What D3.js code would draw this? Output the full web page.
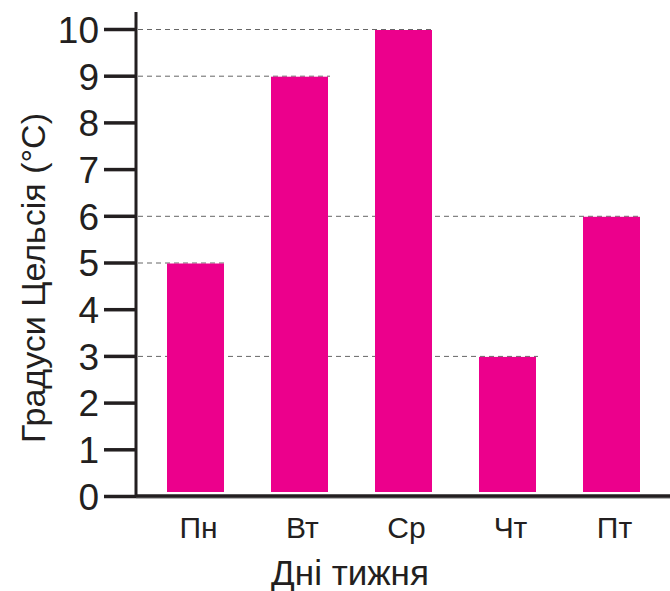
<!DOCTYPE html>
<html>
<head>
<meta charset="utf-8">
<script src="https://cdn.jsdelivr.net/npm/d3@7"></script>
<style>
  body { margin: 0; background: #fff; }
  text { font-family: 'Liberation Sans', Arial, sans-serif; fill: #231f20; }
</style>
</head>
<body>
<div id="chart"></div>
<script>
// データ---------------------------------------------------------------------------
const days = ['Пн', 'Вт', 'Ср', 'Чт', 'Пт'];
const temps = [5, 9, 10, 3, 6];
const yTicks = [0, 1, 2, 3, 4, 5, 6, 7, 8, 9, 10];
const yTitle = 'Градуси Цельсія (°C)';
const xTitle = 'Дні тижня';

const width = 670, height = 591;
const axisColor = '#231f20', barColor = '#ec008c';

const dataset = days.map((d, i) => ({ day: d, value: temps[i] }));

// SVG領域---------------------------------------------------------------------------
const svg = d3.select('#chart').append('svg')
  .attr('width', width)
  .attr('height', height);

// スケール---------------------------------------------------------------------------
const xScale = d3.scaleBand()
  .domain(days)
  .range([167, 640])
  .paddingInner(0.452)
  .paddingOuter(0);
const yScale = d3.scaleLinear()
  .domain([0, 10])
  .range([496, 29]);
const axisX = 136;

// 破線------------------------------------------------------------------------------
svg.append('g')
  .selectAll('line')
  .data(dataset)
  .enter()
  .append('line')
  .attr('x1', axisX + 2)
  .attr('x2', d => xScale(d.day) + xScale.bandwidth() + 2)
  .attr('y1', d => yScale(d.value) + 0.5)
  .attr('y2', d => yScale(d.value) + 0.5)
  .attr('stroke', '#666')
  .attr('stroke-width', 1)
  .attr('stroke-dasharray', '5,4');

// 棒--------------------------------------------------------------------------------
svg.append('g')
  .selectAll('rect')
  .data(dataset)
  .enter()
  .append('rect')
  .attr('x', d => xScale(d.day))
  .attr('y', d => yScale(d.value) + 1)
  .attr('width', xScale.bandwidth())
  .attr('height', d => yScale(0) - 5 - yScale(d.value))
  .attr('fill', barColor);

// Y軸-------------------------------------------------------------------------------
const axisy = d3.axisLeft(yScale)
  .tickValues(yTicks)
  .tickSize(32)
  .tickPadding(5)
  .tickFormat(d3.format('d'));
const gY = svg.append('g')
  .attr('transform', 'translate(' + axisX + ',0)')
  .call(axisy);
gY.select('.domain').remove();
gY.selectAll('.tick line')
  .attr('stroke', axisColor)
  .attr('stroke-width', 3.5);
gY.selectAll('.tick text')
  .attr('font-size', '37px')
  .attr('font-family', "'Liberation Sans', Arial, sans-serif")
  .attr('fill', axisColor)
  .attr('dy', '0.36em');
svg.append('line')
  .attr('x1', axisX).attr('x2', axisX)
  .attr('y1', 12).attr('y2', yScale(0) + 1.5)
  .attr('stroke', axisColor)
  .attr('stroke-width', 3);

// X軸-------------------------------------------------------------------------------
svg.append('line')
  .attr('x1', axisX).attr('x2', width)
  .attr('y1', yScale(0) + 2).attr('y2', yScale(0) + 2)
  .attr('stroke', '#9a9a9a')
  .attr('stroke-width', 1.5);
svg.append('line')
  .attr('x1', axisX).attr('x2', width)
  .attr('y1', yScale(0)).attr('y2', yScale(0))
  .attr('stroke', axisColor)
  .attr('stroke-width', 3.5);

svg.append('g')
  .selectAll('text')
  .data(dataset)
  .enter()
  .append('text')
  .text(d => d.day)
  .attr('x', d => xScale(d.day) + xScale.bandwidth() / 2 + 3)
  .attr('y', 538)
  .attr('text-anchor', 'middle')
  .attr('font-size', '30px');

// 軸タイトル------------------------------------------------------------------------
svg.append('text')
  .text(xTitle)
  .attr('x', 350)
  .attr('y', 585)
  .attr('text-anchor', 'middle')
  .attr('font-size', '35px');

svg.append('text')
  .text(yTitle)
  .attr('transform', 'translate(45,' + 278 + ') rotate(-90)')
  .attr('text-anchor', 'middle')
  .attr('font-size', '34px');
</script>
</body>
</html>
